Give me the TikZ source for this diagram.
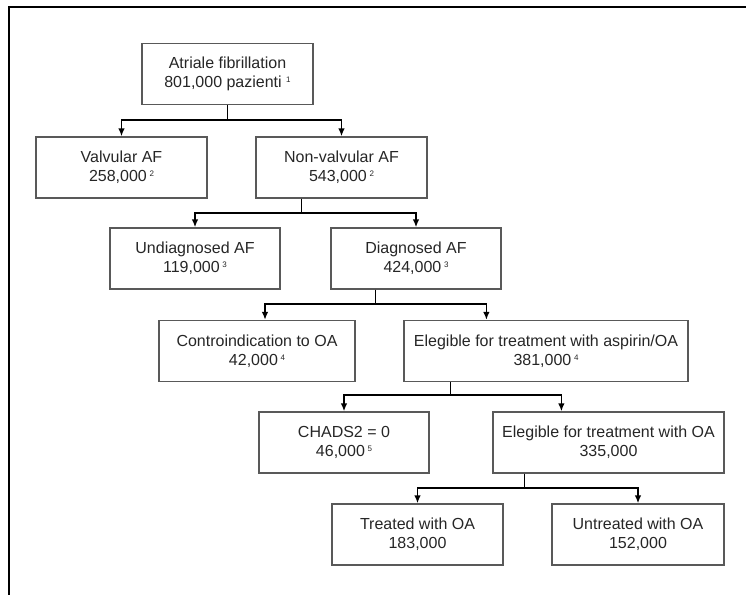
\documentclass[tikz,border=0pt]{standalone}
\usepackage{fontspec}
\setmainfont{Liberation Sans}
\usetikzlibrary{arrows.meta,positioning}
\newcommand{\fnote}[1]{\raisebox{0.6ex}{\fontsize{8}{8}\selectfont #1}}

\begin{document}
\begin{tikzpicture}[x=1pt,y=1pt]
	\useasboundingbox (0,0) rectangle (746,-595);
	\draw[line width=2.6pt,line join=miter] (746,-7) -- (9,-7) -- (9,-595);

	\begin{scope}[every node/.style={rectangle,draw=black!65,line width=1.2pt,minimum height=61pt,align=center,font=\fontsize{16}{19}\selectfont,text=black!85}]
		\node[minimum width=171pt] (AF) at (227.5,-74) {Atriale fibrillation\\801,000 pazienti \fnote{1}};
		\node[minimum width=171pt] (VAF) at (121.5,-167.5) {Valvular AF\\258,000\,\fnote{2}};
		\node[minimum width=171pt] (NVAF) at (341.5,-167.5) {Non-valvular AF\\543,000\,\fnote{2}};
		\node[minimum width=170pt] (UAF) at (195,-258.5) {Undiagnosed AF\\119,000\,\fnote{3}};
		\node[minimum width=170pt] (DAF) at (416,-258.5) {Diagnosed AF\\424,000\,\fnote{3}};
		\node[minimum width=196pt] (contra) at (257,-351) {Controindication to OA\\42,000\,\fnote{4}};
		\node[minimum width=284pt] (eligAsp) at (546,-351) {Elegible for treatment with aspirin/OA\\381,000\,\fnote{4}};
		\node[minimum width=170pt] (chads) at (344,-442.5) {CHADS2 = 0\\46,000\,\fnote{5}};
		\node[minimum width=231pt] (eligOA) at (608.5,-442.5) {Elegible for treatment with OA\\335,000};
		\node[minimum width=171pt] (treated) at (417.5,-534.5) {Treated with OA\\183,000};
		\node[minimum width=172pt] (untreated) at (638,-534.5) {Untreated with OA\\152,000};
	\end{scope}

	\begin{scope}[line width=1.8pt,-{Latex[length=8pt,width=6.5pt]}]
		\draw (AF.south) -- ++(0,-15) -| (VAF.north);
		\draw (AF.south) -- ++(0,-15) -| (NVAF.north);
		\draw ([xshift=46pt]NVAF.south west) -- ++(0,-14) -| (UAF.north);
		\draw ([xshift=46pt]NVAF.south west) -- ++(0,-14) -| (DAF.north);
		\draw ([xshift=45pt]DAF.south west) -- ++(0,-14) -| ([xshift=8pt]contra.north);
		\draw ([xshift=45pt]DAF.south west) -- ++(0,-14) -| ([xshift=83pt]eligAsp.north west);
		\draw ([xshift=47pt]eligAsp.south west) -- ++(0,-13) -| (chads.north);
		\draw ([xshift=47pt]eligAsp.south west) -- ++(0,-13) -| ([xshift=69pt]eligOA.north west);
		\draw ([xshift=32pt]eligOA.south west) -- ++(0,-14) -| (treated.north);
		\draw ([xshift=32pt]eligOA.south west) -- ++(0,-14) -| (untreated.north);
	\end{scope}
\end{tikzpicture}
\end{document}
